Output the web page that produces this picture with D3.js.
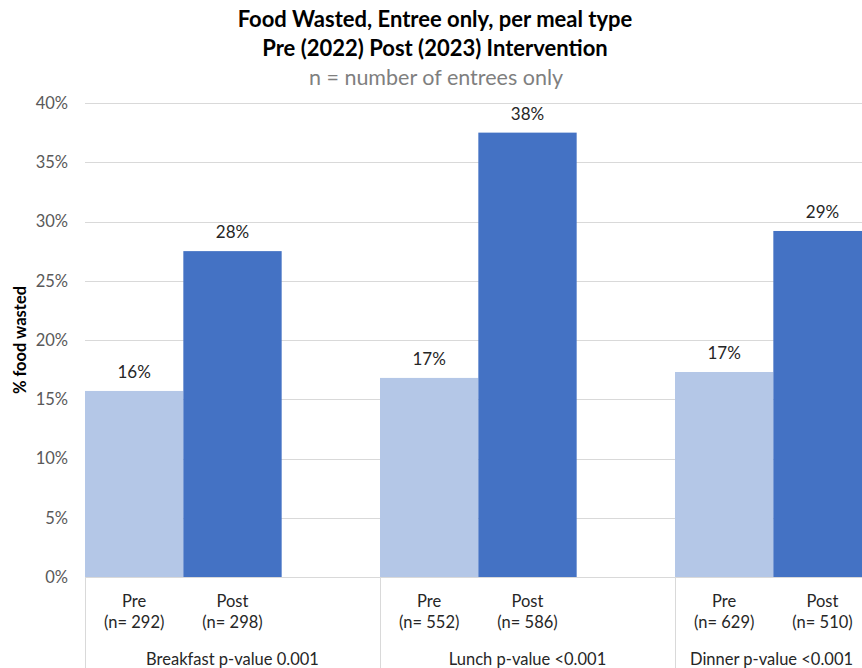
<!DOCTYPE html>
<html><head><meta charset="utf-8">
<script src="https://cdn.jsdelivr.net/npm/d3@7"></script>
<style>
html,body{margin:0;padding:0;background:#fff;overflow:hidden}
text{font-family:Lato,"Open Sans",sans-serif}
</style></head>
<body><svg id="chart" width="862" height="668"></svg>
<script>
const meals = ["Breakfast p-value 0.001", "Lunch p-value <0.001", "Dinner p-value <0.001"];
const series = ["Pre", "Post"];
const preValues = [15.7, 16.8, 17.3];
const postValues = [27.5, 37.5, 29.2];
const preN = [292, 552, 629];
const postN = [298, 586, 510];
const yTicks = [0, 5, 10, 15, 20, 25, 30, 35, 40];
const titleLines = ["Food Wasted, Entree only, per meal type", "Pre (2022) Post (2023) Intervention"];
const subtitle = "n = number of entrees only";
const yTitle = "% food wasted";
const colors = {Pre: "#b4c7e7", Post: "#4472c4"};

const data = meals.map((m, i) => ({
  meal: m,
  items: [
    {s: "Pre", v: preValues[i], n: preN[i]},
    {s: "Post", v: postValues[i], n: postN[i]}
  ]
}));

const svg = d3.select("#chart");
const W = 862, H = 668;
const plot = {left: 85, top: 103, bottom: 577};
const catWidth = 295;

const x0 = d3.scaleBand().domain(meals).range([plot.left, plot.left + catWidth * meals.length]).padding(0);
const x1 = d3.scaleBand().domain(series).range([0, x0.bandwidth() * 2 / 3]).padding(0);
const y = d3.scaleLinear().domain([0, 40]).range([plot.bottom, plot.top]);

// titles
svg.selectAll("text.title").data(titleLines).join("text")
  .attr("class", "title")
  .attr("x", 435).attr("y", (d, i) => 27 + i * 29)
  .attr("text-anchor", "middle")
  .style("font-size", "22px").style("font-weight", "bold").style("fill", "#000")
  .text(d => d);
svg.append("text").attr("x", 436).attr("y", 85).attr("text-anchor", "middle")
  .style("font-size", "21.5px").style("fill", "#7f7f7f").text(subtitle);

// gridlines
svg.append("g").selectAll("line").data(yTicks).join("line")
  .attr("x1", plot.left).attr("x2", W)
  .attr("y1", d => Math.round(y(d)) + 0.5).attr("y2", d => Math.round(y(d)) + 0.5)
  .attr("stroke", "#d9d9d9").attr("stroke-width", 1);

// y axis labels
const yAxis = d3.axisLeft(y).tickValues(yTicks).tickFormat(d => d + "%").tickSize(0).tickPadding(0);
const yg = svg.append("g").attr("transform", `translate(68,0)`).call(yAxis);
yg.select(".domain").remove();
yg.selectAll("text").style("font-size", "16.5px").style("fill", "#595959").style("font-family", "Lato,sans-serif");

// y title
svg.append("text")
  .attr("transform", `translate(26,${(plot.top + plot.bottom) / 2}) rotate(-90)`)
  .attr("text-anchor", "middle")
  .style("font-size", "16.5px").style("font-weight", "bold").style("fill", "#000")
  .text(yTitle);

// bars
const groups = svg.append("g").selectAll("g").data(data).join("g")
  .attr("transform", d => `translate(${x0(d.meal)},0)`);
groups.selectAll("rect").data(d => d.items).join("rect")
  .attr("x", d => x1(d.s)).attr("width", x1.bandwidth())
  .attr("y", d => y(d.v)).attr("height", d => y(0) - y(d.v))
  .attr("fill", d => colors[d.s]);

// data labels
groups.selectAll("text.lbl").data(d => d.items).join("text")
  .attr("class", "lbl")
  .attr("x", d => x1(d.s) + x1.bandwidth() / 2)
  .attr("y", d => y(d.v) - 13)
  .attr("text-anchor", "middle")
  .style("font-size", "17px").style("fill", "#262626")
  .text(d => Math.round(d.v) + "%");

// category axis
svg.append("line").attr("x1", plot.left).attr("x2", W).attr("y1", plot.bottom + 0.5).attr("y2", plot.bottom + 0.5)
  .attr("stroke", "#d9d9d9");
svg.append("g").selectAll("line").data(meals).join("line")
  .attr("x1", d => x0(d) + 0.5).attr("x2", d => x0(d) + 0.5)
  .attr("y1", plot.bottom).attr("y2", H)
  .attr("stroke", "#d9d9d9");

groups.selectAll("text.s").data(d => d.items).join("text")
  .attr("class", "s")
  .attr("x", d => x1(d.s) + x1.bandwidth() / 2)
  .attr("y", 607)
  .attr("text-anchor", "middle")
  .style("font-size", "16.5px").style("fill", "#262626")
  .text(d => d.s);
groups.selectAll("text.n").data(d => d.items).join("text")
  .attr("class", "n")
  .attr("x", d => x1(d.s) + x1.bandwidth() / 2)
  .attr("y", 628)
  .attr("text-anchor", "middle")
  .style("font-size", "16.5px").style("fill", "#262626")
  .text(d => `(n= ${d.n})`);

// meal labels (last one kept inside the visible width)
svg.append("g").selectAll("text").data(meals).join("text")
  .attr("y", 665)
  .style("font-size", "16.5px").style("fill", "#262626")
  .text(d => d)
  .each(function(d) {
    const len = this.getComputedTextLength();
    let cx = x0(d) + x0.bandwidth() / 2;
    if (cx + len / 2 > W - 30) cx = x0(d) + 15 + len / 2;
    d3.select(this).attr("x", cx).attr("text-anchor", "middle");
  });
</script></body></html>
